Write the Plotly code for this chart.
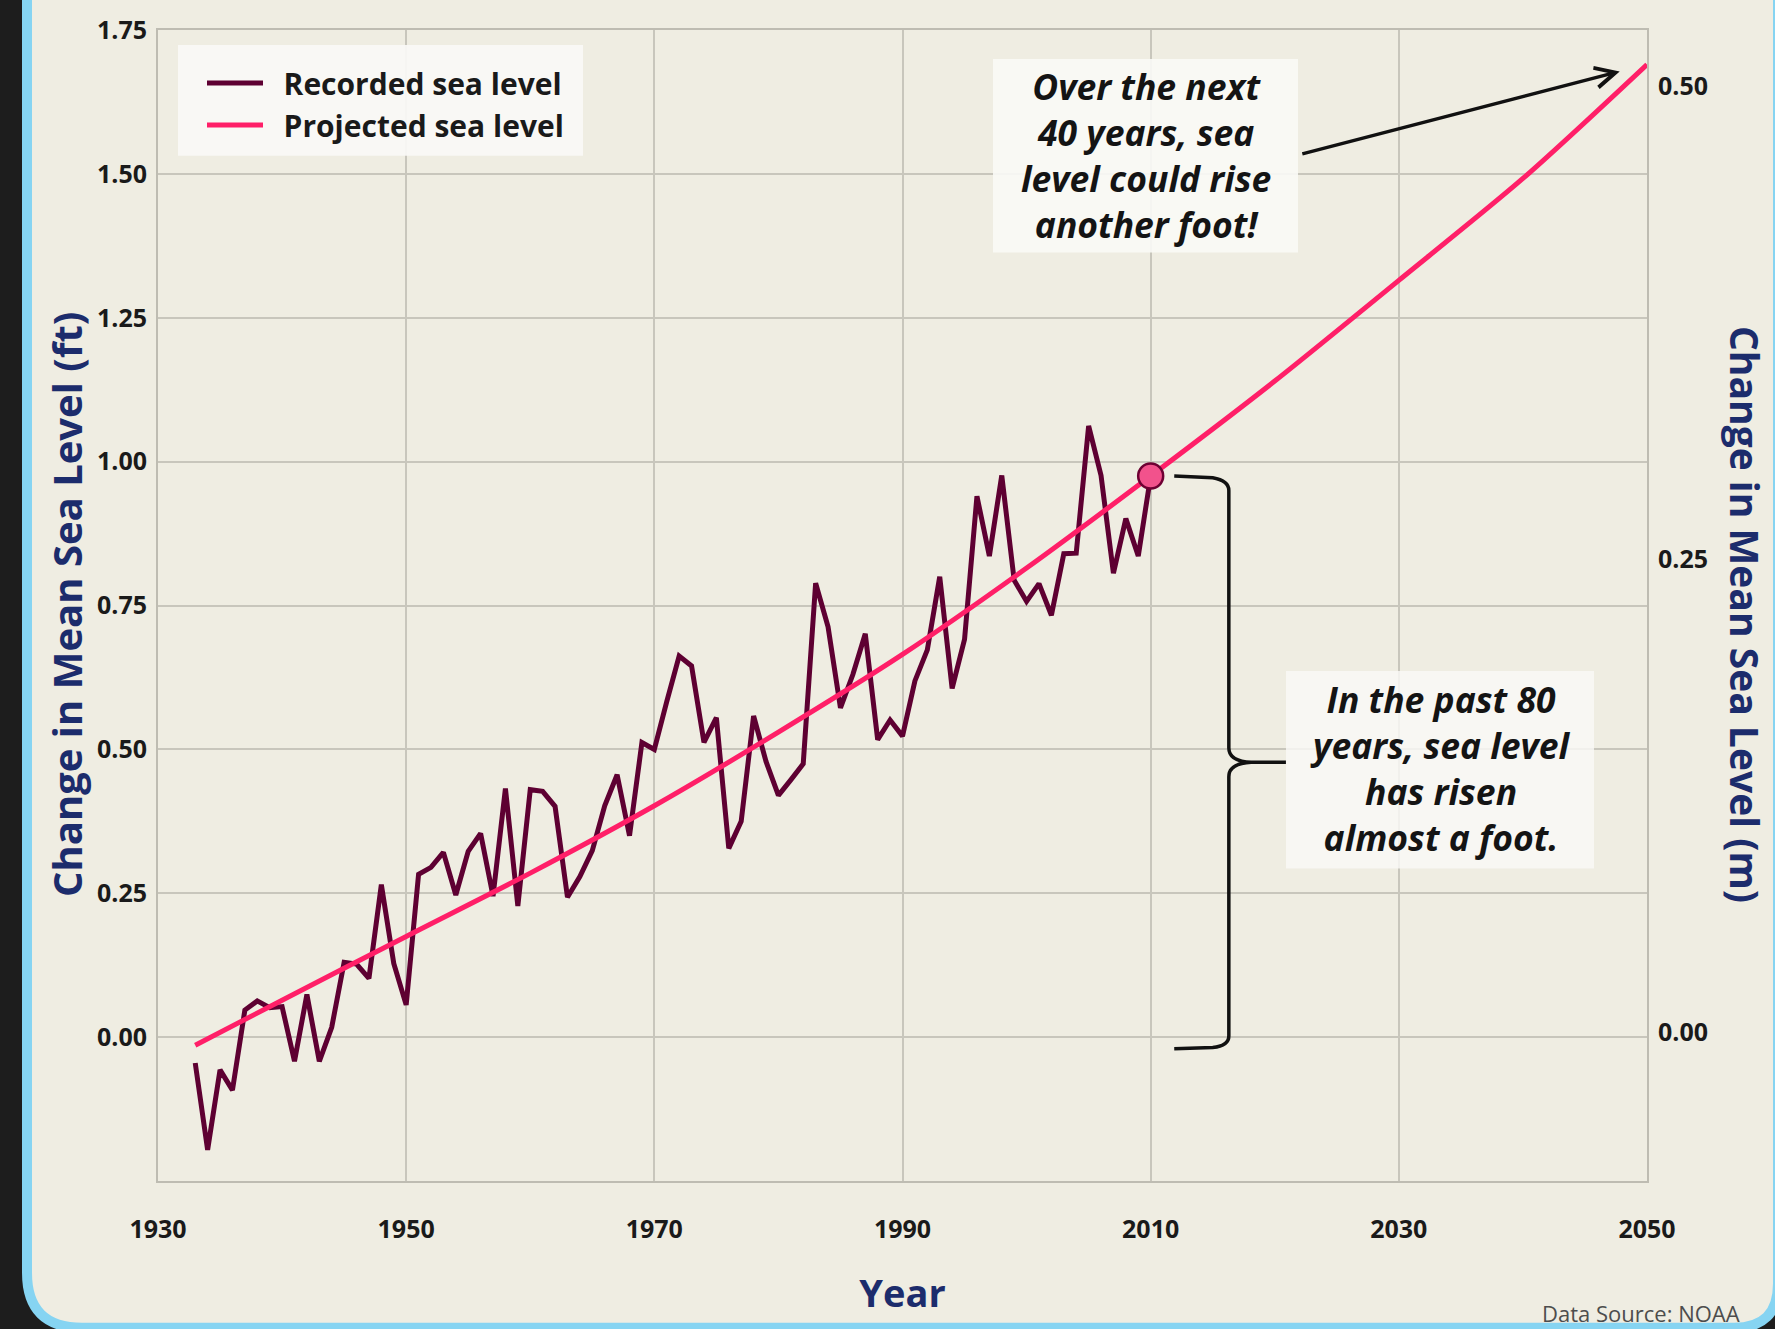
import plotly.graph_objects as go

# ---------------- data ----------------
recorded_years = list(range(1933, 2011))
recorded_ft = [
    -0.045, -0.196, -0.057, -0.092, 0.047, 0.063, 0.051, 0.053, -0.042, 0.074,
    -0.042, 0.017, 0.130, 0.127, 0.102, 0.265, 0.128, 0.056, 0.283, 0.295,
    0.321, 0.247, 0.323, 0.354, 0.245, 0.432, 0.228, 0.430, 0.427, 0.401,
    0.243, 0.279, 0.324, 0.402, 0.456, 0.350, 0.512, 0.500, 0.583, 0.662,
    0.645, 0.512, 0.555, 0.328, 0.375, 0.558, 0.479, 0.420, 0.447, 0.475,
    0.789, 0.713, 0.572, 0.630, 0.701, 0.517, 0.551, 0.523, 0.619, 0.673,
    0.800, 0.606, 0.691, 0.940, 0.836, 0.976, 0.794, 0.757, 0.788, 0.733,
    0.840, 0.841, 1.062, 0.976, 0.806, 0.901, 0.836, 0.975,
]
projected_years = [1933, 1940, 1950, 1960, 1970, 1980, 1990, 2000, 2010, 2020, 2030, 2040, 2050]
projected_ft = [-0.014, 0.064, 0.175, 0.285, 0.402, 0.530, 0.665, 0.815, 0.975, 1.140, 1.315, 1.492, 1.690]

x_ticks = [1930, 1950, 1970, 1990, 2010, 2030, 2050]
y_ticks_ft = [0.0, 0.25, 0.5, 0.75, 1.0, 1.25, 1.5, 1.75]
y_ticks_m = [0.0, 0.25, 0.5]
y_range_ft = [-0.25, 1.75]
y_range_m = [-0.0787, 0.530]

legend_names = ["Recorded sea level", "Projected sea level"]
note_future = ["Over the next", "40 years, sea", "level could rise", "another foot!"]
note_past = ["In the past 80", "years, sea level", "has risen", "almost a foot."]
title_left = "Change in Mean Sea Level (ft)"
title_right = "Change in Mean Sea Level (m)"

# ---------------- geometry helpers (pixels -> paper) ----------------
W, H = 1775, 1329
ML, MR, MT, MB = 158, 128, 28, 148
PW, PH = W - ML - MR, H - MT - MB


def px(xp):
    return (xp - ML) / PW


def py(yp):
    return (H - MB - yp) / PH


BEIGE = "#efede2"
NAVY = "#1c2c6c"
MAROON = "#5e0032"
PINK = "#ff1f68"
FONT = "Open Sans"
NB = "\u00a0\u00a0"

fig = go.Figure()

fig.add_trace(go.Scatter(
    x=recorded_years, y=recorded_ft, mode="lines", name=NB + legend_names[0],
    line=dict(color=MAROON, width=5), hoverinfo="x+y"))
fig.add_trace(go.Scatter(
    x=projected_years, y=projected_ft, mode="lines", name=NB + legend_names[1],
    line=dict(color=PINK, width=5, shape="spline", smoothing=0.8), hoverinfo="x+y"))
i2010 = projected_years.index(2010)
fig.add_trace(go.Scatter(
    x=[projected_years[i2010]], y=[projected_ft[i2010]], mode="markers", showlegend=False,
    marker=dict(size=25, color="#f2528c", line=dict(color="#6e0033", width=2.5)), hoverinfo="skip"))
# empty trace that carries the metre axis on the right
fig.add_trace(go.Scatter(x=[], y=[], yaxis="y2", showlegend=False, hoverinfo="skip"))

# ---------------- frame shapes ----------------
shapes = []
r1, r2, R = 55, 44, 1778
yb = 1328
frame_path = (
    f"M {px(27)},{py(-30)} L {px(27)},{py(yb - r1)} "
    f"Q {px(27)},{py(yb)} {px(27 + r1)},{py(yb)} "
    f"L {px(R - r2)},{py(yb)} Q {px(R)},{py(yb)} {px(R)},{py(yb - r2)} "
    f"L {px(R)},{py(-30)} Z"
)
shapes.append(dict(type="path", xref="paper", yref="paper", path=frame_path,
                   fillcolor=BEIGE, line=dict(color="#86d4f2", width=10), layer="below"))

# legend background box
shapes.append(dict(type="rect", xref="paper", yref="paper",
                   x0=px(178), x1=px(583), y0=py(154), y1=py(43),
                   fillcolor="rgba(250,249,246,0.92)", line=dict(width=0), layer="above"))
# note boxes
shapes.append(dict(type="rect", xref="paper", yref="paper",
                   x0=px(993), x1=px(1298), y0=py(251), y1=py(57),
                   fillcolor="rgba(250,249,246,0.9)", line=dict(width=0), layer="above"))
shapes.append(dict(type="rect", xref="paper", yref="paper",
                   x0=px(1286), x1=px(1594), y0=py(868), y1=py(670),
                   fillcolor="rgba(250,249,246,0.82)", line=dict(width=0), layer="above"))

# curly brace spanning the recorded rise
top = projected_ft[i2010]
bot = projected_ft[0] - 0.006
mid = (top + bot) / 2
xt, xs, xc = 2011.9, 2016.3, 2020.9
brace = (
    f"M {xt},{top} L {xs - 1.3},{top - 0.003} Q {xs},{top - 0.008} {xs},{top - 0.025} "
    f"L {xs},{mid + 0.025} Q {xs},{mid + 0.002} {xs + 1.8},{mid} L {xc},{mid} "
    f"M {xs + 1.8},{mid} Q {xs},{mid - 0.002} {xs},{mid - 0.025} "
    f"L {xs},{bot + 0.022} Q {xs},{bot + 0.005} {xs - 1.3},{bot + 0.002} L {xt},{bot}"
)
shapes.append(dict(type="path", xref="x", yref="y", path=brace,
                   line=dict(color="#111111", width=3.5), layer="above"))

# ---------------- annotations ----------------
annotations = []
note_font = dict(family=FONT, size=35.5, color="#141414")
annotations.append(dict(xref="paper", yref="paper", x=px(1146), y=py(153),
                        text="<b><i>" + "<br>".join(note_future) + "</i></b>", showarrow=False,
                        font=note_font, align="center", xanchor="center", yanchor="middle"))
annotations.append(dict(xref="paper", yref="paper", x=px(1440), y=py(767),
                        text="<b><i>" + "<br>".join(note_past) + "</i></b>", showarrow=False,
                        font=note_font, align="center", xanchor="center", yanchor="middle"))
# arrow toward 2050 projection
annotations.append(dict(xref="x", yref="y", x=2047.8, y=1.678,
                        axref="x", ayref="y", ax=2022.1, ay=1.534,
                        text="", showarrow=True, arrowhead=5, arrowsize=1.2,
                        arrowwidth=3.3, arrowcolor="#111111", standoff=0, startstandoff=0))
# axis titles
annotations.append(dict(xref="paper", yref="paper", x=px(66), y=py(604),
                        text=f"<b>{title_left}</b>", textangle=-90, showarrow=False,
                        font=dict(family=FONT, size=40, color=NAVY),
                        xanchor="center", yanchor="middle"))
annotations.append(dict(xref="paper", yref="paper", x=px(1745), y=py(614),
                        text=f"<b>{title_right}</b>", textangle=90, showarrow=False,
                        font=dict(family=FONT, size=39, color=NAVY),
                        xanchor="center", yanchor="middle"))
annotations.append(dict(xref="paper", yref="paper", x=px(1742), y=py(1313),
                        text="Data Source: NOAA", showarrow=False,
                        font=dict(family=FONT, size=22, color="#4d4d4d"),
                        xanchor="right", yanchor="middle"))

tickfont = dict(family=FONT, size=25, color="#1a1a1a", weight="bold")

fig.update_layout(
    width=W, height=H, autosize=False,
    margin=dict(l=ML, r=MR, t=MT, b=MB),
    paper_bgcolor="#1d1d1d", plot_bgcolor=BEIGE,
    font=dict(family=FONT),
    shapes=shapes, annotations=annotations,
    showlegend=True,
    legend=dict(x=px(202), y=py(55), xanchor="left", yanchor="top",
                bgcolor="rgba(0,0,0,0)", borderwidth=0, itemwidth=56,
                font=dict(family=FONT, size=30, color="#1a1a1a", weight="bold"),
                tracegroupgap=0),
    xaxis=dict(range=[1930, 2050], tickvals=x_ticks, showgrid=True,
               gridcolor="#c8c6bc", gridwidth=1.6, zeroline=False,
               showline=True, linecolor="#bebcb2", linewidth=2, mirror=True,
               ticks="", tickfont=tickfont, ticklabelstandoff=25,
               title=dict(text="Year", font=dict(family=FONT, size=38, color=NAVY, weight="bold"),
                          standoff=36)),
    yaxis=dict(range=y_range_ft, tickvals=y_ticks_ft, tickformat=".2f", showgrid=True,
               gridcolor="#c8c6bc", gridwidth=1.6, zeroline=False,
               showline=True, linecolor="#bebcb2", linewidth=2, mirror=True,
               ticks="", tickfont=tickfont, ticklabelstandoff=4),
    yaxis2=dict(overlaying="y", side="right", anchor="x",
                range=y_range_m, tickvals=y_ticks_m, tickformat=".2f",
                showgrid=False, zeroline=False, showline=False, ticks="",
                tickfont=tickfont, ticklabelstandoff=10),
)

fig.write_html("out.html", config={"displayModeBar": False},
               post_script="document.body.style.margin='0px';")
